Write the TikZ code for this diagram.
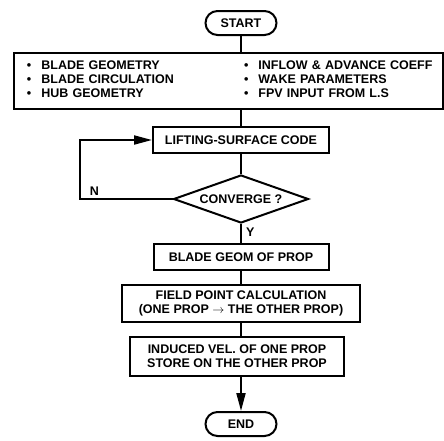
\documentclass[tikz,border=0pt]{standalone}
\usepackage{fontspec}
\setmainfont{Liberation Sans}
\usetikzlibrary{arrows.meta, positioning, shapes.geometric}
\newcommand{\flowfont}{\fontsize{12.5}{14}\selectfont\bfseries}
\tikzset{
    termbox/.style={rectangle, rounded corners=12pt, draw=black, fill=white, minimum width=71pt, minimum height=24pt, inner sep=2pt, font=\flowfont, line width=2pt},
    procbox/.style={rectangle, draw=black, fill=white, minimum height=26pt, align=center, inner sep=3pt, font=\flowfont, line width=2pt},
    decbox/.style={diamond, aspect=2.8, draw=black, fill=white, minimum width=135pt, minimum height=48pt, inner sep=0pt, font=\flowfont, line width=2pt},
    flowline/.style={draw=black, line width=2pt},
    flowarrow/.style={-{Triangle[length=18pt, width=9pt]}, draw=black, line width=2pt},
    labeltext/.style={font=\flowfont, inner sep=1pt}
}

\begin{document}
\begin{tikzpicture}[x=1pt, y=1pt]
    \useasboundingbox (0,0) rectangle (444,-440);
    % Nodes
    \node[termbox] (start) at (241,-23) {START};
    \node[procbox, below=16pt of start, xshift=-12.5pt, text width=403pt, align=left, inner xsep=13pt, minimum height=56pt] (inputs) {%
        \begin{tabular}{@{}p{217pt}@{}l@{}}
        \textbullet\hspace{10pt}BLADE GEOMETRY & \textbullet\hspace{10pt}INFLOW \& ADVANCE COEFF\\
        \textbullet\hspace{10pt}BLADE CIRCULATION & \textbullet\hspace{10pt}WAKE PARAMETERS\\
        \textbullet\hspace{10pt}HUB GEOMETRY & \textbullet\hspace{10pt}FPV INPUT FROM L.S
        \end{tabular}};
    \node[procbox, below=16pt of inputs, xshift=12.5pt, minimum width=176pt] (lsc) {LIFTING-SURFACE CODE};
    \node[decbox, below=20pt of lsc] (conv) {CONVERGE ?};
    \node[procbox, below=19pt of conv, minimum width=175pt] (geom) {BLADE GEOM OF PROP};
    \node[procbox, below=13pt of geom, minimum width=238pt, minimum height=37pt] (field) {FIELD POINT CALCULATION\\(ONE PROP $\rightarrow$ THE OTHER PROP)};
    \node[procbox, below=13pt of field, xshift=-4pt, minimum width=214pt, minimum height=39pt] (induced) {INDUCED VEL. OF ONE PROP\\STORE ON THE OTHER PROP};
    \node[termbox, below=34pt of induced, xshift=4pt] (stop) {END};

    % Paths
    \draw[flowline] (start) -- (start |- inputs.north);
    \draw[flowline] (lsc |- inputs.south) -- (lsc);
    \draw[flowline] (lsc) -- (conv);
    \draw[flowline] (conv) -- node[labeltext, right=3pt, pos=0.45]{Y} (geom);
    \draw[flowline] (geom) -- (field);
    \draw[flowline] (field) -- (field |- induced.north);
    \draw[flowarrow] (stop |- induced.south) -- (stop);

    % Loop back
    \draw[flowarrow] (conv.west) -- node[labeltext, above=2pt, pos=0.84]{N} ++(-93pt,0) |- (lsc.west);
\end{tikzpicture}
\end{document}
